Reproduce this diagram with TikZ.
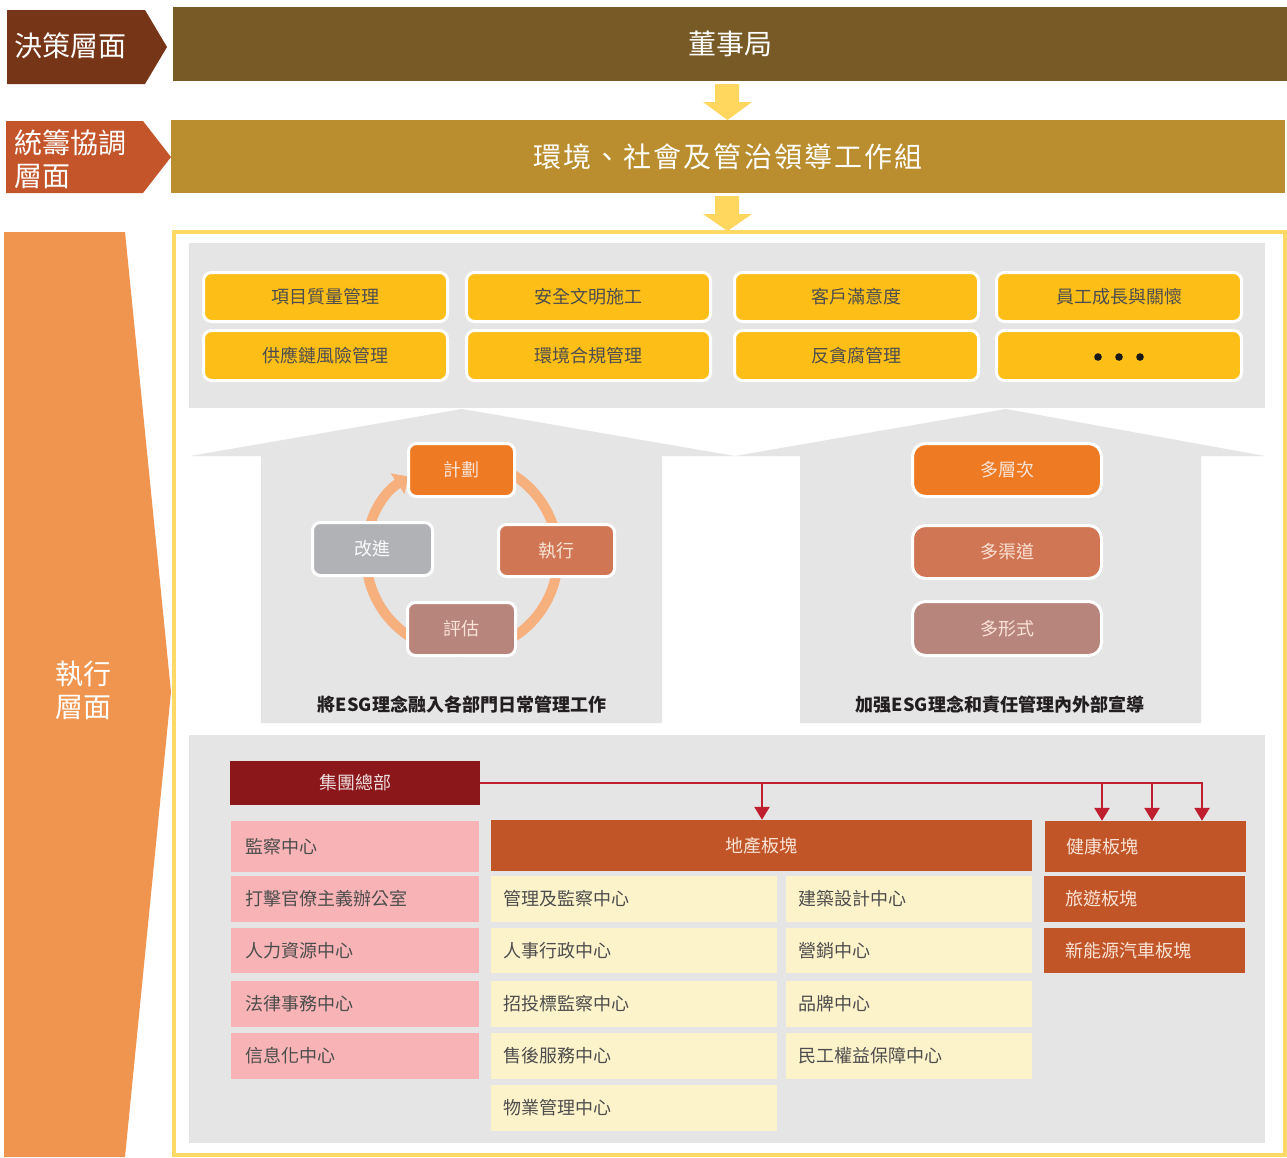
\documentclass[tikz,border=0pt]{standalone}
\usepackage{fontspec}
\setmainfont{Noto Sans CJK TC}
\usetikzlibrary{arrows.meta}
\definecolor{decBrown}{HTML}{773517}
\definecolor{boardBrown}{HTML}{785A27}
\definecolor{coordOrange}{HTML}{C4552A}
\definecolor{groupGold}{HTML}{BA8E2E}
\definecolor{arrowYellow}{HTML}{FFD75F}
\definecolor{frameYellow}{HTML}{FFD966}
\definecolor{execOrange}{HTML}{F0954F}
\definecolor{panelGrey}{HTML}{E5E5E5}
\definecolor{boxYellow}{HTML}{FDBF17}
\definecolor{cycOrange}{HTML}{EE7B24}
\definecolor{cycRust}{HTML}{D07654}
\definecolor{cycGrey}{HTML}{B1B2B5}
\definecolor{cycMauve}{HTML}{B8857D}
\definecolor{ringOrange}{HTML}{F5B07E}
\definecolor{hqRed}{HTML}{8B171A}
\definecolor{lineRed}{HTML}{BE1E2D}
\definecolor{pinkBox}{HTML}{F7B3B5}
\definecolor{creamBox}{HTML}{FDF3CB}
\definecolor{segOrange}{HTML}{C25527}
\definecolor{txtGrey}{HTML}{4D4D4D}
\definecolor{capDark}{HTML}{231F20}
\definecolor{lightTxt}{HTML}{F9E3D6}
\def\pad{14}
\newcommand\Bx[7][]{%
 \pgfmathsetmacro\bw{#5-#3}%
 \pgfmathsetmacro\bh{#6-#4}%
 \pgfmathsetmacro\tw{#5-#3-2*\pad}%
 \pgfmathsetmacro\bcx{(#3+#5)/2}%
 \pgfmathsetmacro\bcy{-(#4+#6)/2}%
 \node[minimum width=\bw pt, minimum height=\bh pt, inner sep=0pt, #1] (#2) at (\bcx,\bcy) {#7};}
\begin{document}
\begin{tikzpicture}[x=1pt,y=1pt,
 lvl/.style={text=white, font=\fontsize{28}{33}\selectfont, inner sep=0pt},
 bar/.style={text=white, font=\fontsize{28}{33}\selectfont},
 ybox/.style={fill=boxYellow, draw=white, line width=3pt, rounded corners=8pt, text=txtGrey, font=\fontsize{18}{21}\selectfont},
 cbox/.style={draw=white, line width=3pt, rounded corners=8pt, text=lightTxt, font=\fontsize{18}{21}\selectfont},
 sbox/.style={draw=white, line width=3pt, rounded corners=13pt, text=lightTxt, font=\fontsize{18}{21}\selectfont},
 captxt/.style={text=capDark, font=\bfseries\fontsize{18}{21}\selectfont, inner sep=0pt},
 org/.style={font=\fontsize{18}{21}\selectfont},
 lalign/.style={text width=\tw pt, align=left, inner xsep=\pad pt},
 pinkc/.style={org, fill=pinkBox, text=txtGrey, lalign},
 creamc/.style={org, fill=creamBox, text=txtGrey, lalign},
 segc/.style={org, fill=segOrange, text=lightTxt},
 orgline/.style={draw=lineRed, line width=2.5pt},
 orgarrow/.style={orgline, -{Triangle[length=13pt,width=15pt]}},
 ring/.style={draw=ringOrange, line width=10pt}
]
\useasboundingbox (0,0) rectangle (1287,-1157);
\fill[white] (0,0) rectangle (1287,-1157);

% ---- decision level
\fill[decBrown] (7,-10) -- (145,-10) -- (167,-47) -- (145,-84) -- (7,-84) -- cycle;
\node[lvl, anchor=west] (lvlDec) at (14,-46) {決策層面};
\Bx[bar, fill=boardBrown]{board}{173}{7}{1287}{81}{董事局}

\fill[arrowYellow] (715,-84) -- (739,-84) -- (739,-102) -- (752,-102) -- (727.5,-120) -- (703,-102) -- (715,-102) -- cycle;

% ---- coordination level
\fill[coordOrange] (6,-121) -- (143,-121) -- (171,-157) -- (143,-193) -- (6,-193) -- cycle;
\node[lvl, anchor=west, align=left] (lvlCoord) at (14,-159) {統籌協調\\層面};
\Bx[bar, fill=groupGold]{esg}{171}{120}{1285}{193}{\addfontfeature{LetterSpace=7.5}環境、社會及管治領導工作組}

\fill[arrowYellow] (715,-196) -- (739,-196) -- (739,-214) -- (752,-214) -- (727.5,-231) -- (703,-214) -- (715,-214) -- cycle;

% ---- execution level
\draw[frameYellow, line width=4pt] (174,-232) rectangle (1285,-1155);
\fill[execOrange] (4,-232) -- (125,-232) -- (171,-692) -- (125,-1157) -- (4,-1157) -- cycle;
\node[lvl, align=center] (lvlExec) at (83,-690) {執行\\層面};

% top panel
\fill[panelGrey] (189,-243) rectangle (1265,-408);
\Bx[ybox]{t1}{203.5}{272.5}{447.5}{321.5}{項目質量管理}
\Bx[ybox]{t2}{466.5}{272.5}{710.5}{321.5}{安全文明施工}
\Bx[ybox]{t3}{734.5}{272.5}{978.5}{321.5}{客戶滿意度}
\Bx[ybox]{t4}{996.5}{272.5}{1241.5}{321.5}{員工成長與關懷}
\Bx[ybox]{t5}{203.5}{330.5}{447.5}{380.5}{供應鏈風險管理}
\Bx[ybox]{t6}{466.5}{330.5}{710.5}{380.5}{環境合規管理}
\Bx[ybox]{t7}{734.5}{330.5}{978.5}{380.5}{反貪腐管理}
\Bx[ybox]{t8}{996.5}{330.5}{1241.5}{380.5}{}
\fill[black!90] ([xshift=-21pt,yshift=-1.5pt]t8.center) circle (3.8pt);
\fill[black!90] ([yshift=-1.5pt]t8.center) circle (3.8pt);
\fill[black!90] ([xshift=21pt,yshift=-1.5pt]t8.center) circle (3.8pt);

% houses
\fill[panelGrey] (190,-456) -- (462,-409) -- (735,-456) -- (662,-456) -- (662,-723) -- (261,-723) -- (261,-456) -- cycle;
\fill[panelGrey] (735,-456) -- (1006,-409) -- (1265,-456) -- (1201,-456) -- (1201,-723) -- (800,-723) -- (800,-456) -- cycle;

% cycle
\draw[ring, -{Triangle[length=13pt,width=24pt]}] (462,-556) ++(110:96) arc[start angle=470, end angle=124, radius=96];
\Bx[cbox, fill=cycOrange]{plan}{408.5}{443.5}{514.5}{496.5}{計劃}
\Bx[cbox, fill=cycRust]{doit}{498.5}{524.5}{614.5}{576.5}{執行}
\Bx[cbox, fill=cycGrey, text=white!94!cycGrey]{improve}{312.5}{522.5}{432.5}{575.5}{改進}
\Bx[cbox, fill=cycMauve]{evaluate}{407.5}{602.5}{515.5}{655.5}{評估}
\node[captxt] (capL) at (462,-705) {將ESG理念融入各部門日常管理工作};

\Bx[sbox, fill=cycOrange]{multiLevel}{912.5}{443.5}{1101.5}{496.5}{多層次}
\Bx[sbox, fill=cycRust]{multiChannel}{912.5}{525.5}{1101.5}{578.5}{多渠道}
\Bx[sbox, fill=cycMauve]{multiForm}{912.5}{601.5}{1101.5}{655.5}{多形式}
\node[captxt] (capR) at (1000,-705) {加强ESG理念和責任管理內外部宣導};

% bottom panel
\fill[panelGrey] (189,-735) rectangle (1265,-1143);
\Bx[org, fill=hqRed, text=white!85!hqRed]{hq}{230}{761}{480}{805}{集團總部}

\Bx[pinkc]{p1}{231}{821}{479}{872}{監察中心}
\Bx[pinkc]{p2}{231}{876}{479}{922}{打擊官僚主義辦公室}
\Bx[pinkc]{p3}{231}{928}{479}{973}{人力資源中心}
\Bx[pinkc]{p4}{231}{981}{479}{1027}{法律事務中心}
\Bx[pinkc]{p5}{231}{1033}{479}{1079}{信息化中心}

\Bx[segc]{land}{491}{820}{1032}{871}{地產板塊}
\def\pad{12}
\Bx[creamc]{c1}{491}{876}{777}{922}{管理及監察中心}
\Bx[creamc]{c2}{491}{928}{777}{973}{人事行政中心}
\Bx[creamc]{c3}{491}{981}{777}{1027}{招投標監察中心}
\Bx[creamc]{c4}{491}{1033}{777}{1079}{售後服務中心}
\Bx[creamc]{c5}{491}{1085}{777}{1131}{物業管理中心}
\Bx[creamc]{d1}{786}{876}{1032}{922}{建築設計中心}
\Bx[creamc]{d2}{786}{928}{1032}{973}{營銷中心}
\Bx[creamc]{d3}{786}{981}{1032}{1027}{品牌中心}
\Bx[creamc]{d4}{786}{1033}{1032}{1079}{民工權益保障中心}
\def\pad{21}
\Bx[segc, lalign]{health}{1045}{821}{1246}{872}{健康板塊}
\Bx[segc, lalign]{travel}{1044}{876}{1245}{922}{旅遊板塊}
\Bx[segc, lalign]{nev}{1044}{928}{1245}{973}{新能源汽車板塊}

% connectors
\coordinate (jL) at (762,-783);
\coordinate (jR1) at (1102,-783);
\coordinate (jR2) at (1152,-783);
\coordinate (jR3) at (1202,-783);
\draw[orgarrow] (hq.east) -- (jR3) -- (jR3 |- health.north);
\draw[orgarrow] (jL) -- (jL |- land.north);
\draw[orgarrow] (jR1) -- (jR1 |- health.north);
\draw[orgarrow] (jR2) -- (jR2 |- health.north);
\end{tikzpicture}
\end{document}
